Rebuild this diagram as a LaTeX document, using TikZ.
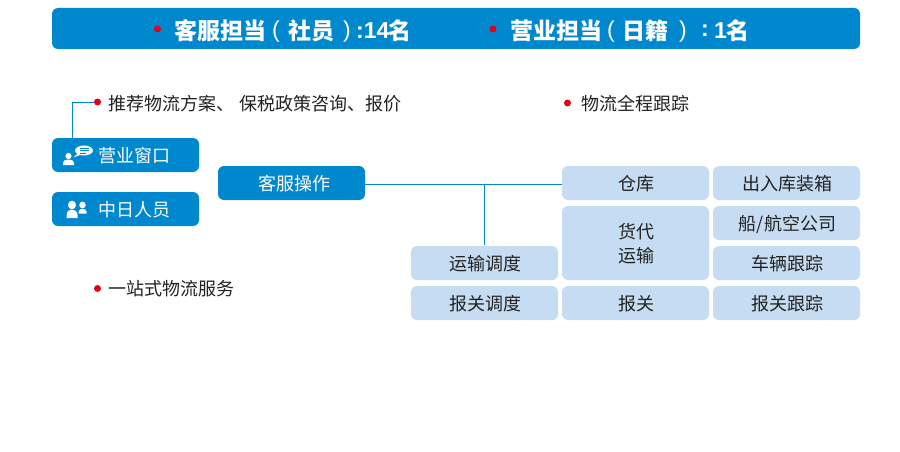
\documentclass[tikz,border=0pt]{standalone}
\usepackage{fontspec}
\setmainfont{Noto Sans CJK SC}
\newfontfamily\latinbold{Liberation Sans}
\definecolor{bluebox}{HTML}{0088CF}
\definecolor{palebox}{HTML}{C6DCF2}
\definecolor{reddot}{HTML}{E60012}
\definecolor{textdark}{HTML}{222222}
\tikzset{x=1pt,y=-1pt,
 base/.style={rounded corners=6pt,minimum width=147pt,minimum height=34pt,inner sep=0pt},
 boxtext/.style={inner sep=0pt,font=\fontsize{18}{24}\selectfont,align=center,xshift=1pt,yshift=-1pt},
 bluenode/.style={base,fill=bluebox},
 palenode/.style={base,fill=palebox,label={[boxtext,text=textdark]center:#1}},
 bullet/.style={circle,fill=reddot,minimum size=7pt,inner sep=0pt},
 bullettext/.style={anchor=west,inner sep=0pt,text=textdark,font=\fontsize{18}{24}\selectfont},
 headtext/.style={anchor=west,inner sep=0pt,text=white,font=\fontsize{23}{28}\selectfont\bfseries},
 headlatin/.style={anchor=west,inner sep=0pt,text=white,font=\fontsize{23}{28}\selectfont\latinbold},
 whitetext/.style={inner sep=0pt,text=white,font=\fontsize{18}{24}\selectfont,anchor=west},
 link/.style={draw=bluebox,line width=1pt},
 iconfill/.style={fill=white,draw=none}}
\begin{document}
\begin{tikzpicture}
\useasboundingbox (0,0) rectangle (900,452);
\fill[white] (0,0) rectangle (900,452);
% header
\node[bluenode,minimum width=808pt,minimum height=41pt] (head) at (456,28.5) {};
\node[bullet] (hd1) at (157.5,29) {};
\node[headtext] (ht1) at (174,30.5) {客服担当};
\node[headlatin] (hp1) at (272,32) {(};
\node[headtext] (ht1b) at (288,30.5) {社员};
\node[headlatin] (hp2) at (343,32) {)};
\node[headlatin] (ht1c) at (356,31) {\bfseries :14};
\node[headtext] (ht1d) at (388,30.5) {名};
\node[bullet] (hd2) at (493,29) {};
\node[headtext] (ht2) at (510,30.5) {营业担当};
\node[headlatin] (hp3) at (607,32) {(};
\node[headtext] (ht2b) at (622,30.5) {日籍};
\node[headlatin] (hp4) at (679,32) {)};
\node[headlatin] (ht2c) at (701,31) {\bfseries :};
\node[headlatin] (ht2d) at (714,31) {\bfseries 1};
\node[headtext] (ht2e) at (726,30.5) {名};
% left boxes
\node[bluenode] (win) at (125.5,155) {};
\node[whitetext] (wint) at (98,156) {营业窗口};
\node[bluenode] (jp) at (125.5,209) {};
\node[whitetext] (jpt) at (98,210) {中日人员};
\node[bluenode] (cs) at (291.5,183) {};
\node[whitetext] (cst) at (258,184) {客服操作};
% right boxes
\node[palenode={仓库}] (ck) at (635.5,183) {};
\node[palenode={出入库装箱}] (crk) at (786.5,183) {};
\node[palenode={货代\\运输},minimum height=74pt] (hd) at (635.5,243) {};
\node[palenode={船/航空公司}] (air) at (786.5,223) {};
\node[palenode={车辆跟踪}] (car) at (786.5,263) {};
\node[palenode={运输调度}] (ysdd) at (484.5,263) {};
\node[palenode={报关调度}] (bgdd) at (484.5,303) {};
\node[palenode={报关}] (bg) at (635.5,303) {};
\node[palenode={报关跟踪}] (bggz) at (786.5,303) {};
% bullets
\node[bullet] (b1) at (97.5,102) {};
\node[bullettext] (t1) at (108,103.5) {推荐物流方案、\hspace{1pt} 保税政策咨询、报价};
\node[bullet] (b2) at (567.5,103) {};
\node[bullettext] (t2) at (581,103.5) {物流全程跟踪};
\node[bullet] (b3) at (97.5,288.5) {};
\node[bullettext] (t3) at (108,288.5) {一站式物流服务};
% connectors
\coordinate (c1) at ([yshift=-1pt]cs.east);
\coordinate (c2) at ([yshift=-1pt]ck.west);
\coordinate (j) at (ysdd.north |- c1);
\draw[link] (c1) -- (c2);
\draw[link] (j) -- ([yshift=1pt]ysdd.north);
\coordinate (w) at (72.5,138);
\draw[link] (w) |- (b1.west);
% person with speech icon
\fill[iconfill] (68.5,156) circle (3.1pt);
\fill[iconfill] (63,165) -- (63,162.5) .. controls (63.5,160) and (66,159.5) .. (68.5,159.5) .. controls (71,159.5) and (73.5,160) .. (74,162.5) -- (74,165) -- cycle;
\fill[iconfill] (84,150.5) ellipse (9pt and 5pt);
\fill[iconfill] (78,153) -- (80,155) -- (73.5,157.5) -- cycle;
\draw[bluebox,line width=.8pt] (79.5,148.5) -- (88.5,148.5) (79.5,150.7) -- (88.5,150.7) (79.5,152.9) -- (86,152.9);
% people icon
\fill[iconfill] (72,205) ellipse (4pt and 4.3pt);
\fill[iconfill] (66.7,218) -- (66.7,214.5) .. controls (67,211) and (69.5,209.5) .. (72,209.5) .. controls (74.5,209.5) and (77,211) .. (77.5,214.5) -- (77.5,218) -- cycle;
\fill[iconfill] (82.5,205) ellipse (3.2pt and 3.4pt);
\fill[iconfill] (78.5,213.5) -- (78.5,211.5) .. controls (79,209.5) and (81,208.8) .. (82.5,208.8) .. controls (84,208.8) and (86.3,209.5) .. (86.6,211.5) -- (86.6,213.5) -- cycle;
\end{tikzpicture}
\end{document}
